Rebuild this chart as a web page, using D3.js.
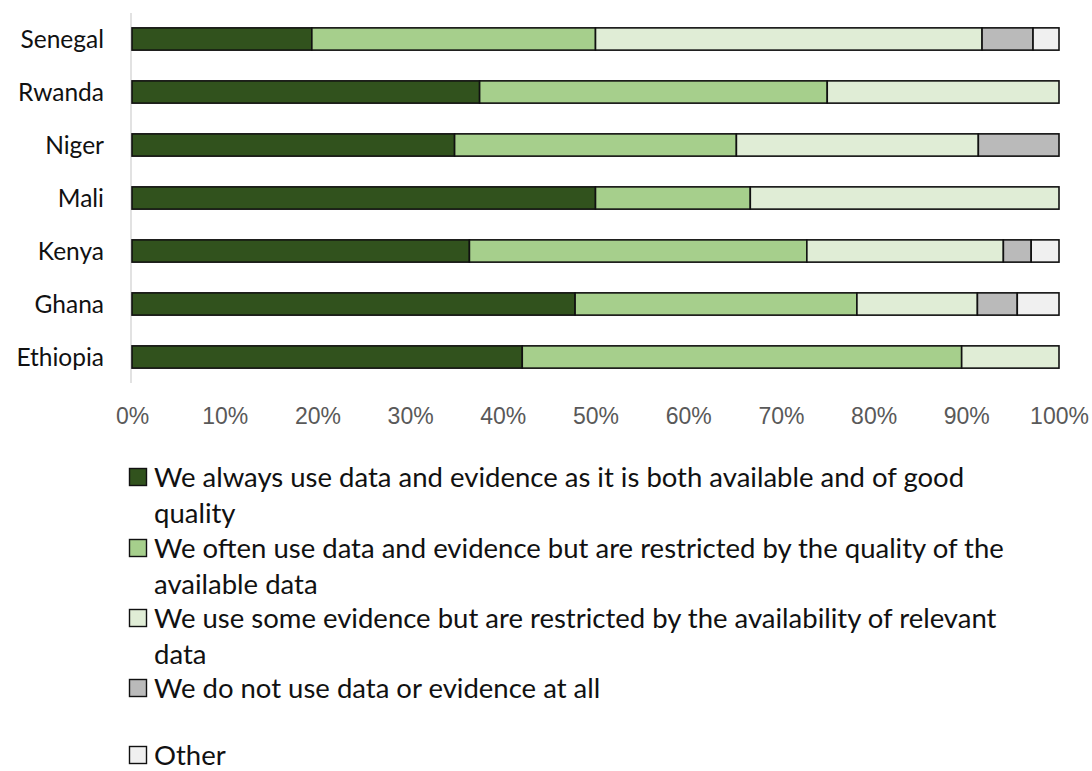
<!DOCTYPE html>
<html>
<head>
<meta charset="utf-8">
<script src="https://cdn.jsdelivr.net/npm/d3@7"></script>
<style>
  html, body { margin: 0; padding: 0; background: #ffffff; }
  svg { display: block; }
</style>
</head>
<body>
<svg id="chart" width="1092" height="771"></svg>
<script>
// Countries, top to bottom
const countries = ["Senegal", "Rwanda", "Niger", "Mali", "Kenya", "Ghana", "Ethiopia"];

// Share of respondents (%) per answer, in country order
const alwaysUse    = [19.4, 37.5, 34.8, 50.0, 36.4, 47.8, 42.1];
const oftenUse     = [30.6, 37.5, 30.4, 16.7, 36.4, 30.4, 47.4];
const someEvidence = [41.7, 25.0, 26.1, 33.3, 21.2, 13.0, 10.5];
const notUse       = [5.5, 0, 8.7, 0, 3.0, 4.3, 0];
const other        = [2.8, 0, 0, 0, 3.0, 4.5, 0];

const tickValues = [0, 10, 20, 30, 40, 50, 60, 70, 80, 90, 100];

const seriesNames = [
  ["We always use data and evidence as it is both available and of good", "quality"],
  ["We often use data and evidence but are restricted by the quality of the", "available data"],
  ["We use some evidence but are restricted by the availability of relevant", "data"],
  ["We do not use data or evidence at all"],
  ["Other"]
];
const seriesColors = ["#31521d", "#a6cf8c", "#e0edd6", "#bababa", "#f0f0f0"];
const seriesValues = [alwaysUse, oftenUse, someEvidence, notUse, other];

const svg = d3.select("#chart");

const x = d3.scaleLinear().domain([0, 100]).range([132, 1059]);
const y = d3.scaleBand().domain(countries).range([12.5, 383.5])
  .paddingInner(0.58).paddingOuter(0.29);

// Rows for stacking
const rows = countries.map((c, i) => {
  const r = { country: c };
  seriesValues.forEach((vals, k) => { r["s" + k] = vals[i]; });
  return r;
});
const keys = seriesValues.map((_, k) => "s" + k);
const stacked = d3.stack().keys(keys)(rows);

// Vertical category axis line
svg.append("line")
  .attr("x1", 131).attr("x2", 131)
  .attr("y1", 13).attr("y2", 383)
  .attr("stroke", "#d9d9d9").attr("stroke-width", 1.5);

// Stacked bars
const layers = svg.append("g").selectAll("g")
  .data(stacked)
  .join("g")
  .attr("fill", (d, k) => seriesColors[k]);

layers.selectAll("rect")
  .data(d => d.filter(p => p[1] - p[0] > 0))
  .join("rect")
  .attr("x", d => x(d[0]))
  .attr("y", d => y(d.data.country))
  .attr("width", d => x(d[1]) - x(d[0]))
  .attr("height", y.bandwidth())
  .attr("stroke", "#111111")
  .attr("stroke-width", 1.6);

// Country labels
svg.append("g").selectAll("text")
  .data(countries)
  .join("text")
  .attr("x", 104)
  .attr("y", d => y(d) + y.bandwidth() / 2)
  .attr("dy", "0.35em")
  .attr("text-anchor", "end")
  .attr("font-family", "Lato, 'Open Sans', sans-serif")
  .attr("font-size", 24.5)
  .attr("fill", "#111111")
  .text(d => d);

// Percentage axis
const xAxis = d3.axisBottom(x)
  .tickValues(tickValues)
  .tickFormat(d => d + "%")
  .tickSize(0)
  .tickPadding(0);

const gx = svg.append("g")
  .attr("transform", "translate(0,408)")
  .call(xAxis);
gx.select(".domain").remove();
gx.selectAll("text")
  .attr("font-family", "'Liberation Sans', Arial, sans-serif")
  .attr("font-size", 23)
  .attr("fill", "#595959");

// Legend
const legendTop = [477, 548, 618, 688, 755];
const lg = svg.append("g");
seriesNames.forEach((lines, k) => {
  const g = lg.append("g");
  g.append("rect")
    .attr("x", 129.5).attr("y", legendTop[k] - 8.5)
    .attr("width", 17).attr("height", 17)
    .attr("fill", seriesColors[k])
    .attr("stroke", "#111111").attr("stroke-width", 1.4);
  lines.forEach((t, j) => {
    g.append("text")
      .attr("x", 154)
      .attr("y", legendTop[k] + j * 36)
      .attr("dy", "0.35em")
      .attr("font-family", "Lato, 'Open Sans', sans-serif")
      .attr("font-size", 27.5)
      .attr("fill", "#111111")
      .text(t);
  });
});
</script>
</body>
</html>
